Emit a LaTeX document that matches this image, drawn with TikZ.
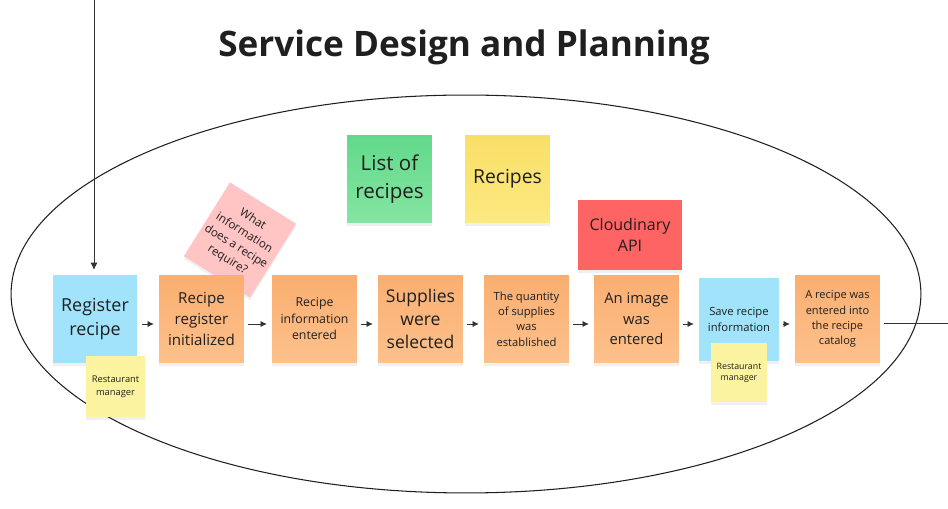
\documentclass[tikz,border=0pt]{standalone}
\usepackage{fontspec}
\setmainfont{Open Sans}
\usetikzlibrary{arrows.meta,shadows}

\definecolor{ink}{HTML}{1F1F1F}
\definecolor{arrowgray}{HTML}{333333}
\definecolor{cmdblue}{HTML}{A0E3FB}
\definecolor{orangetop}{HTML}{FAAE70}
\definecolor{orangebot}{HTML}{FDC18C}
\definecolor{greentop}{HTML}{62D98A}
\definecolor{greenbot}{HTML}{84E5A2}
\definecolor{yellowtop}{HTML}{F9DF68}
\definecolor{yellowbot}{HTML}{FDE980}
\definecolor{actoryellow}{HTML}{FCF3A0}
\definecolor{apired}{HTML}{FF6464}
\definecolor{askpink}{HTML}{FFC5C5}

\begin{document}
\begin{tikzpicture}[
    x=0.02cm, y=-0.02cm,
    note/.style={minimum width=1.7cm, minimum height=1.76cm, align=center, inner sep=1pt, text=ink,
        drop shadow={opacity=0.12, shadow xshift=0pt, shadow yshift=-1.5pt}},
    event/.style={note, top color=orangetop, bottom color=orangebot},
    command/.style={note, fill=cmdblue},
    actor/.style={note, fill=actoryellow, minimum width=1.18cm, minimum height=1.22cm},
    flow/.style={draw=arrowgray, -{Latex[length=3.5pt,width=3.5pt]}, shorten <=2.3pt, shorten >=2.8pt}
]
    \useasboundingbox (0,0) rectangle (948,509);

    \node[font=\fontsize{20}{24}\selectfont\bfseries, text=ink] (title) at (464,47) {Service Design and Planning};

    \draw[line width=0.6pt, ink] (466,294) ellipse [x radius=9.1cm, y radius=3.98cm];

    \node[note, fill=askpink, rotate=-32, minimum width=1.56cm, minimum height=1.74cm,
        font=\fontsize{6.6}{9}\selectfont] (ask) at (240,240) {What\\information\\does a recipe\\require?};

    \node[command, font=\fontsize{10.2}{13.6}\selectfont] (reg) at (95,319) {Register\\recipe};
    \node[event, font=\fontsize{8.6}{12}\selectfont] (init) at (201.5,319) {Recipe\\register\\initialized};
    \node[event, font=\fontsize{7}{9.4}\selectfont] (info) at (314.5,319) {Recipe\\information\\entered};
    \node[event, font=\fontsize{10}{13.3}\selectfont] (supp) at (420.5,319) {Supplies\\were\\selected};
    \node[event, font=\fontsize{6.4}{8.8}\selectfont] (qty) at (526.5,319) {The quantity\\of supplies\\was\\established};
    \node[event, font=\fontsize{8.4}{11.6}\selectfont] (img) at (636.5,319) {An image\\was\\entered};
    \node[command, minimum width=1.6cm, minimum height=1.66cm, font=\fontsize{6.4}{9}\selectfont] (save) at (739,319.5) {Save recipe\\information};
    \node[event, font=\fontsize{6.3}{8.7}\selectfont] (done) at (837.5,319) {A recipe was\\entered into\\the recipe\\catalog};

    \node[actor, font=\fontsize{5.3}{7.5}\selectfont] (mgr) at (115.5,386.5) {Restaurant\\manager};
    \node[actor, minimum width=1.12cm, minimum height=1.18cm, font=\fontsize{5}{6.2}\selectfont] (mgrsave) at (739,372.5) {Restaurant\\manager};

    \node[note, top color=greentop, bottom color=greenbot, font=\fontsize{11.7}{16}\selectfont] (list) at (389.5,179) {List of\\recipes};
    \node[note, top color=yellowtop, bottom color=yellowbot, font=\fontsize{11}{16}\selectfont] (rcp) at (507.5,179) {Recipes};
    \node[note, fill=apired, minimum width=2.08cm, minimum height=1.4cm, font=\fontsize{9.1}{12}\selectfont] (cld) at (630,235) {Cloudinary\\API};

    \coordinate (src) at (94,0);
    \coordinate (flowy) at (0,324);
    \coordinate (out) at (948,323);

    \draw[draw=arrowgray, -{Latex[length=4pt,width=4pt]}, shorten >=2.8pt] (src) -- (src |- reg.north);
    \draw[flow] (reg.east |- flowy) -- (init.west |- flowy);
    \draw[flow] (init.east |- flowy) -- (info.west |- flowy);
    \draw[flow] (info.east |- flowy) -- (supp.west |- flowy);
    \draw[flow] (supp.east |- flowy) -- (qty.west |- flowy);
    \draw[flow] (qty.east |- flowy) -- (img.west |- flowy);
    \draw[flow] (img.east |- flowy) -- (save.west |- flowy);
    \draw[flow] (save.east |- flowy) -- (done.west |- flowy);
    \draw[draw=arrowgray, shorten <=2pt] (done.east |- out) -- (out);
\end{tikzpicture}
\end{document}
